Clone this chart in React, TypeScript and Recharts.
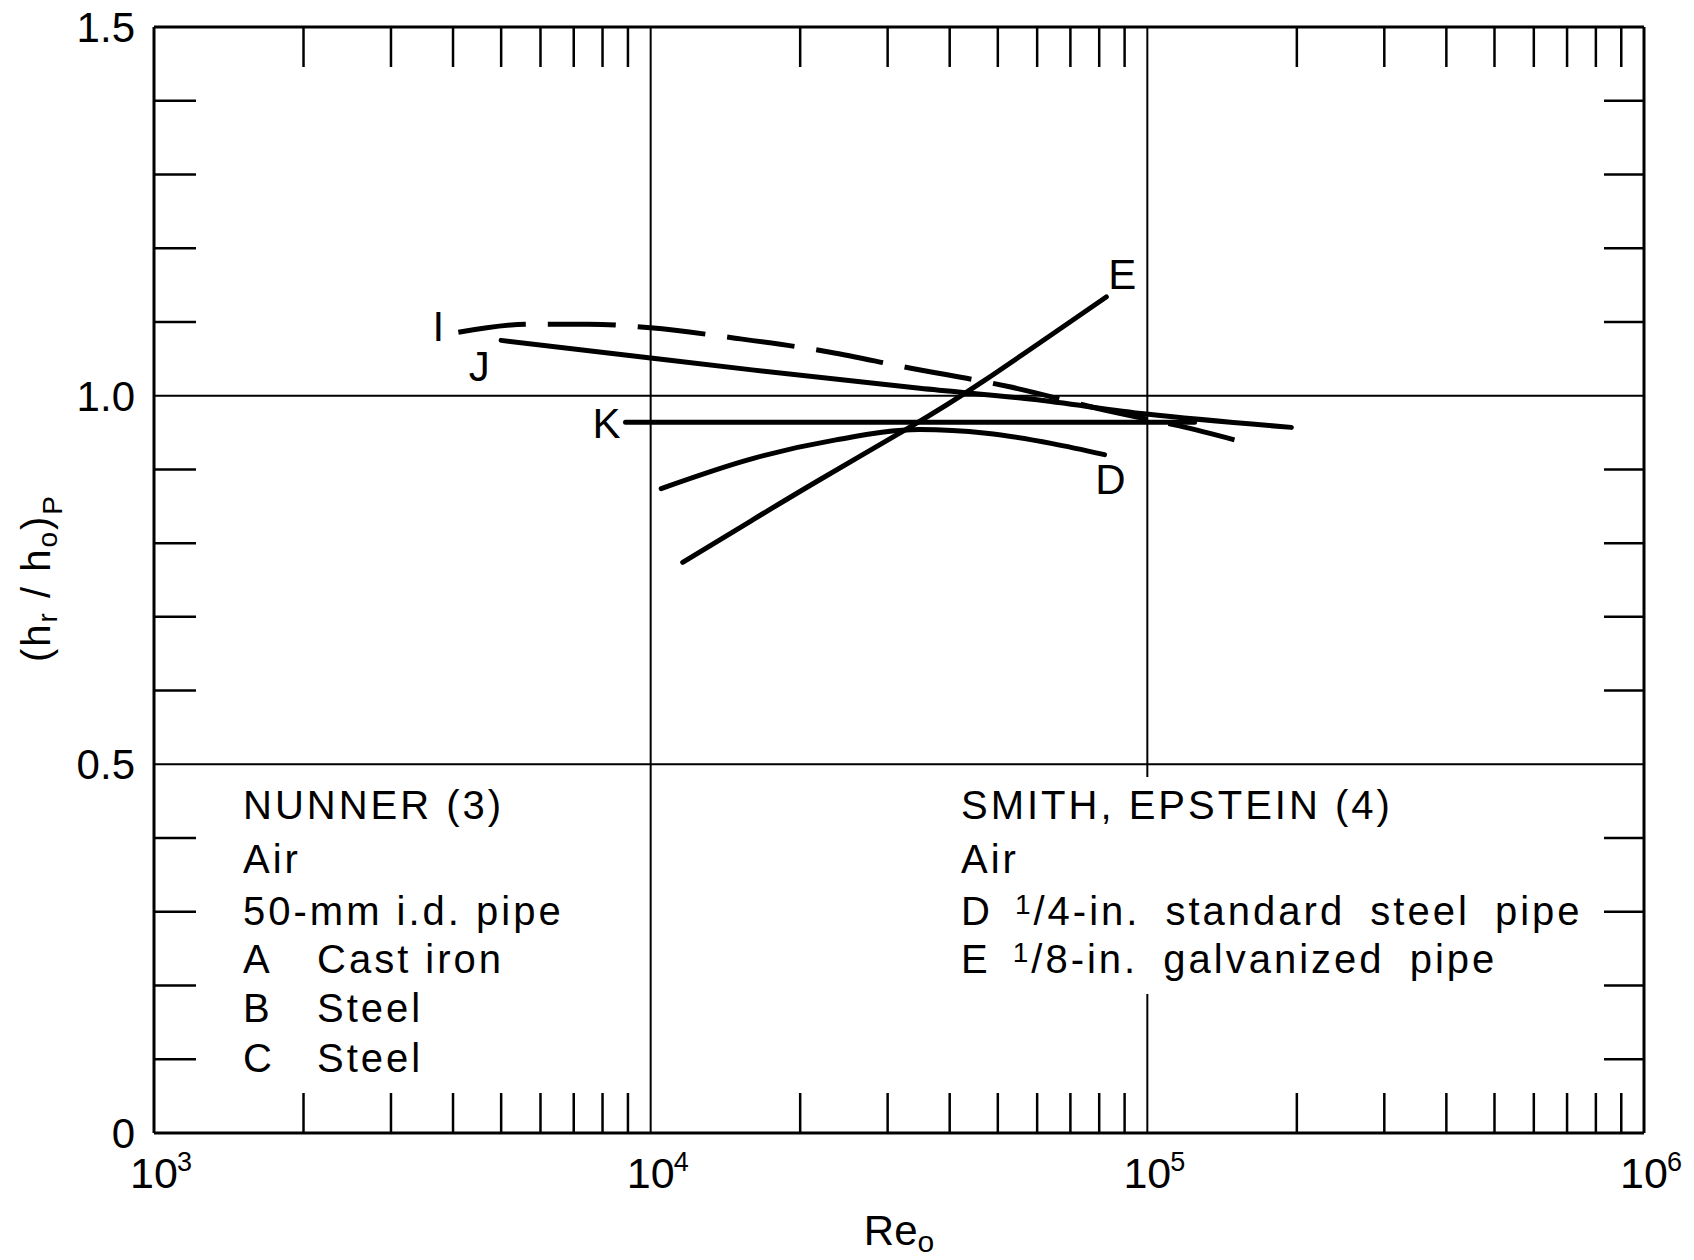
import React from 'react';
import { LineChart, Line, XAxis, YAxis, ReferenceLine } from 'recharts';

const W = 1694;
const H = 1260;
const FONT = '"Liberation Sans", Arial, sans-serif';
const INK = '#000';

// axes
const decades = [1000, 10000, 100000, 1000000];
const mantissas = [1, 2, 3, 4, 5, 6, 7, 8, 9];
const xTicks = [...decades.slice(0, 3).flatMap((d) => mantissas.map((m) => m * d)), 1000000];
const yTicks = [0, 0.1, 0.2, 0.3, 0.4, 0.5, 0.6, 0.7, 0.8, 0.9, 1.0, 1.1, 1.2, 1.3, 1.4, 1.5];
const yLabels = [0, 0.5, 1.0, 1.5];
const yLabelText = ['0', '0.5', '1.0', '1.5'];
const gridX = [10000, 100000];
const gridY = [0.5, 1.0];

// curves: Re_o and (hr/ho)P
const reI = [4100, 5700, 7500, 10000, 14800, 23000, 32400, 52800, 85100, 116000, 152000];
const hI = [1.086, 1.097, 1.097, 1.092, 1.078, 1.059, 1.039, 1.012, 0.978, 0.959, 0.939];
const reJ = [5000, 10000, 16000, 34800, 58700, 99500, 195000];
const hJ = [1.075, 1.051, 1.035, 1.01, 0.995, 0.975, 0.957];
const reK = [8900, 124500];
const hK = [0.964, 0.964];
const reD = [10500, 16100, 23600, 34800, 47400, 64400, 82000];
const hD = [0.874, 0.915, 0.94, 0.954, 0.949, 0.935, 0.92];
const reE = [11600, 16000, 21900, 33200, 46600, 82700];
const hE = [0.774, 0.831, 0.886, 0.957, 1.019, 1.134];

// notes
const nunnerHead = ['NUNNER (3)', 'Air', '50-mm i.d. pipe'];
const nunnerKeys = [['A', 'Cast iron'], ['B', 'Steel'], ['C', 'Steel']];
const smithHead = ['SMITH, EPSTEIN (4)', 'Air'];
const smithKeys = [['D', '1', '/4-in. standard steel pipe'], ['E', '1', '/8-in. galvanized pipe']];
const rowY = [819, 873, 925, 973, 1022, 1072];

const rows = (re: number[], h: number[]) => re.map((r, i) => ({ re: r, h: h[i] }));

const BottomTick = (p: any) => {
  const { x, y, payload } = p;
  const v = payload.value;
  if (!decades.includes(v)) {
    return <line x1={x} x2={x} y1={y} y2={y - 40} stroke={INK} strokeWidth={2.5} />;
  }
  return (
    <g fontFamily={FONT} fill={INK}>
      <text x={x} y={y + 55} textAnchor="middle" fontSize={43}>10</text>
      <text x={x + 23} y={y + 38} fontSize={27}>{Math.round(Math.log10(v))}</text>
    </g>
  );
};

const TopTick = (p: any) => {
  const { x, y, payload } = p;
  if (decades.includes(payload.value)) return <g />;
  return <line x1={x} x2={x} y1={y} y2={y + 40} stroke={INK} strokeWidth={2.5} />;
};

const LeftTick = (p: any) => {
  const { x, y, payload } = p;
  const i = yLabels.indexOf(payload.value);
  if (i >= 0) {
    return (
      <text x={x - 19} y={y + 15} textAnchor="end" fontSize={42} fontFamily={FONT} fill={INK}>
        {yLabelText[i]}
      </text>
    );
  }
  return <line x1={x} x2={x + 42} y1={y} y2={y} stroke={INK} strokeWidth={2.5} />;
};

const RightTick = (p: any) => {
  const { x, y, payload } = p;
  if (yLabels.includes(payload.value)) return <g />;
  return <line x1={x} x2={x - 40} y1={y} y2={y} stroke={INK} strokeWidth={2.5} />;
};

const curveLabel = (text: string, at: number, dx: number, dy: number) => (p: any) => {
  if (p.index !== at) return null;
  const x = p.x ?? p.viewBox?.x;
  const y = p.y ?? p.viewBox?.y;
  return (
    <text key={text} x={x + dx} y={y + dy} textAnchor="middle" fontSize={42} fontFamily={FONT} fill={INK}>
      {text}
    </text>
  );
};

const frame = { stroke: INK, strokeWidth: 3 };
const lineProps = {
  xAxisId: 'b',
  yAxisId: 'l',
  dataKey: 'h',
  stroke: INK,
  strokeWidth: 5,
  dot: false,
  isAnimationActive: false,
};

export default function App() {
  // negative margin cancels the body margin so the chart fills the page
  return (
    <div style={{ position: 'relative', width: W, height: H, margin: -8 }}>
      <LineChart width={W} height={H} margin={{ top: 26, right: 49, bottom: 0, left: 0 }}>
        <XAxis
          xAxisId="b"
          orientation="bottom"
          type="number"
          dataKey="re"
          scale="log"
          domain={[1000, 1000000]}
          allowDataOverflow
          ticks={xTicks}
          interval={0}
          tickSize={0}
          tickMargin={0}
          tickLine={false}
          axisLine={frame}
          tick={BottomTick}
          height={127}
        />
        <XAxis
          xAxisId="t"
          orientation="top"
          type="number"
          dataKey="re"
          scale="log"
          domain={[1000, 1000000]}
          allowDataOverflow
          ticks={xTicks}
          interval={0}
          tickSize={0}
          tickMargin={0}
          tickLine={false}
          axisLine={frame}
          tick={TopTick}
          height={1}
        />
        <YAxis
          yAxisId="l"
          type="number"
          domain={[0, 1.5]}
          allowDataOverflow
          ticks={yTicks}
          interval={0}
          tickSize={0}
          tickMargin={0}
          tickLine={false}
          axisLine={frame}
          tick={LeftTick}
          width={154}
        />
        <YAxis
          yAxisId="r"
          orientation="right"
          type="number"
          domain={[0, 1.5]}
          allowDataOverflow
          ticks={yTicks}
          interval={0}
          tickSize={0}
          tickMargin={0}
          tickLine={false}
          axisLine={frame}
          tick={RightTick}
          width={1}
        />
        {gridX.map((v) => (
          <ReferenceLine key={'gx' + v} xAxisId="b" yAxisId="l" x={v} stroke={INK} strokeWidth={2} />
        ))}
        {gridY.map((v) => (
          <ReferenceLine key={'gy' + v} xAxisId="b" yAxisId="l" y={v} stroke={INK} strokeWidth={2} />
        ))}
        <Line {...lineProps} type="monotone" data={rows(reI, hI)} strokeDasharray="68 22" label={curveLabel('I', 0, -20, 9)} />
        <Line {...lineProps} type="monotone" data={rows(reJ, hJ)} strokeLinecap="round" label={curveLabel('J', 0, -22, 41)} />
        <Line {...lineProps} type="linear" data={rows(reK, hK)} strokeLinecap="round" label={curveLabel('K', 0, -19, 16)} />
        <Line {...lineProps} type="monotone" data={rows(reD, hD)} strokeLinecap="round" label={curveLabel('D', reD.length - 1, 6, 39)} />
        <Line {...lineProps} type="natural" data={rows(reE, hE)} strokeLinecap="round" label={curveLabel('E', reE.length - 1, 16, -8)} />
      </LineChart>

      <svg
        width={W}
        height={H}
        style={{ position: 'absolute', left: 0, top: 0, pointerEvents: 'none' }}
        fontFamily={FONT}
        fill={INK}
      >
        {/* the 10^5 grid line is broken behind the Smith-Epstein note */}
        <rect x={953} y={777} width={645} height={217} fill="#fff" />

        <g fontSize={40} letterSpacing={3}>
          {nunnerHead.map((t, i) => (
            <text key={t} x={243} y={rowY[i]}>{t}</text>
          ))}
          {nunnerKeys.map(([k, t], i) => (
            <g key={k}>
              <text x={243} y={rowY[i + 3]}>{k}</text>
              <text x={317} y={rowY[i + 3]}>{t}</text>
            </g>
          ))}
          {smithHead.map((t, i) => (
            <text key={t} x={961} y={rowY[i]}>{t}</text>
          ))}
          {smithKeys.map(([k, n, t], i) => (
            <text key={k} x={961} y={rowY[i + 2]} wordSpacing={11}>
              {k}
              <tspan dx={22} dy={-11} fontSize={28}>{n}</tspan>
              <tspan dy={11}>{t}</tspan>
            </text>
          ))}
        </g>

        <text transform="translate(50,578) rotate(-90)" textAnchor="middle" fontSize={40} letterSpacing={2}>
          (h
          <tspan fontSize={28} dy={7}>r</tspan>
          <tspan dy={-7}> / h</tspan>
          <tspan fontSize={28} dy={7}>o</tspan>
          <tspan dy={-7}>)</tspan>
          <tspan fontSize={28} dy={12}>P</tspan>
        </text>

        <text x={899} y={1245} textAnchor="middle" fontSize={42}>
          Re
          <tspan fontSize={30} dy={7}>o</tspan>
        </text>
      </svg>
    </div>
  );
}
